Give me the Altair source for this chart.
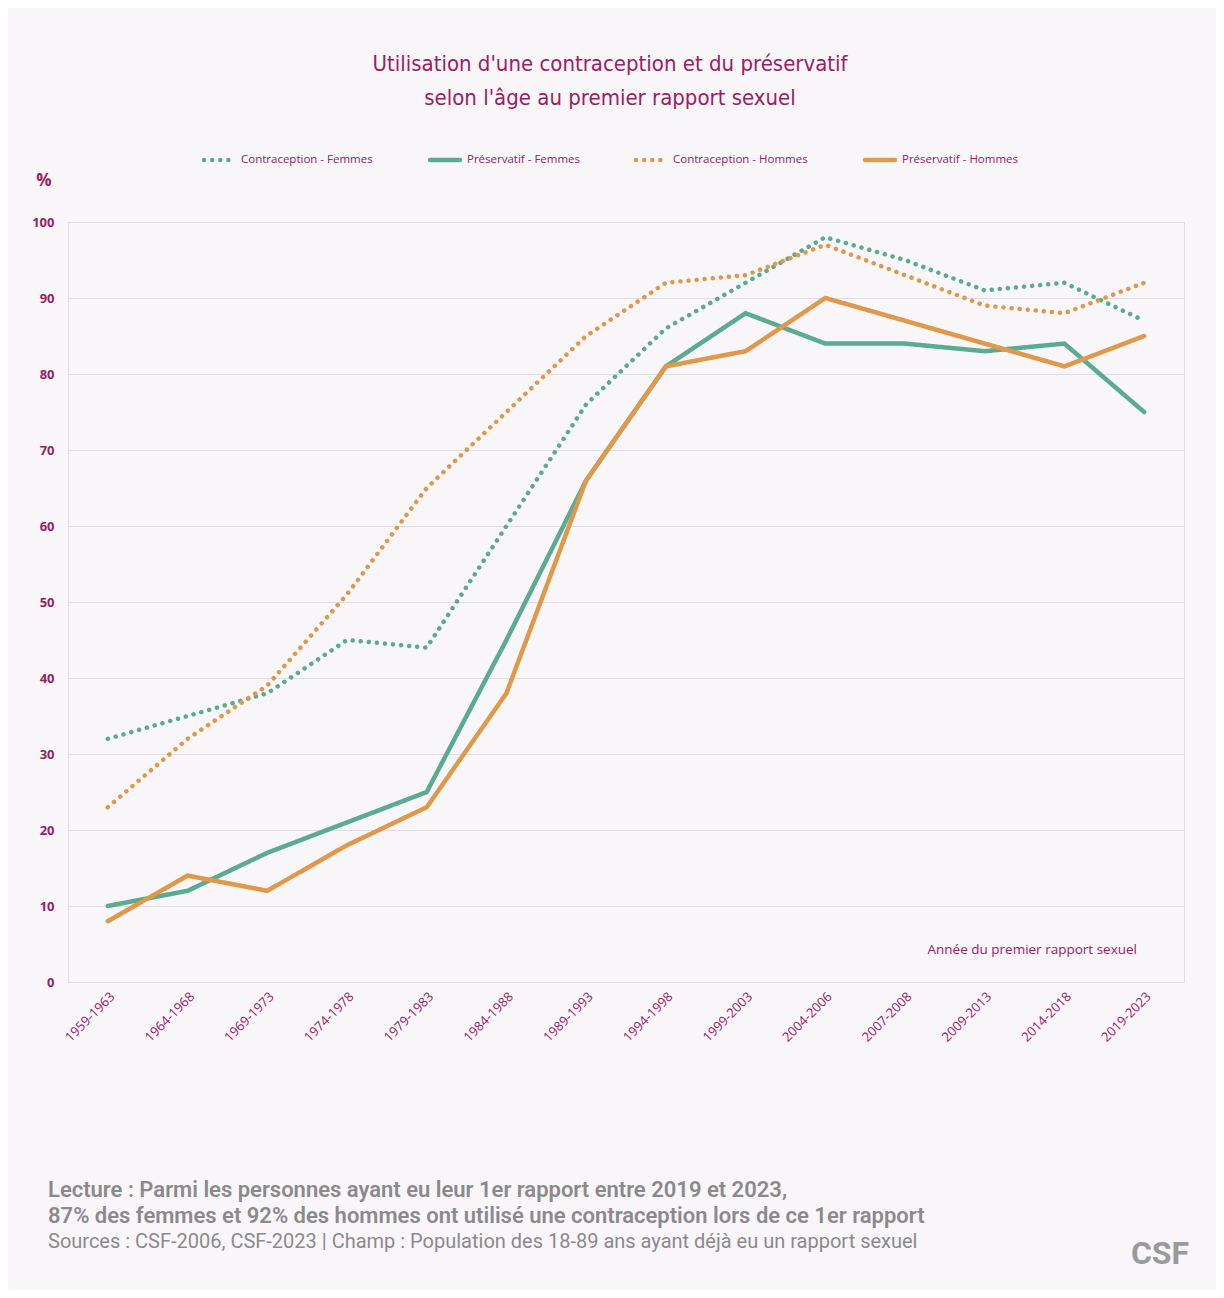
import altair as alt
import pandas as pd

periods = ["1959-1963","1964-1968","1969-1973","1974-1978","1979-1983","1984-1988","1989-1993",
           "1994-1998","1999-2003","2004-2006","2007-2008","2009-2013","2014-2018","2019-2023"]
contra_f = [32,35,38,45,44,60,76,86,92,98,95,91,92,87]
preserv_f = [10,12,17,21,25,45,66,81,88,84,84,83,84,75]
contra_h = [23,32,39,51,65,75,85,92,93,97,93,89,88,92]
preserv_h = [8,14,12,18,23,38,66,81,83,90,87,84,81,85]
series = ["Contraception - Femmes","Préservatif - Femmes","Contraception - Hommes","Préservatif - Hommes"]

rows = []
for name, vals in zip(series, [contra_f, preserv_f, contra_h, preserv_h]):
    for p, v in zip(periods, vals):
        rows.append({"periode": p, "valeur": v, "serie": name})
df = pd.DataFrame(rows)

PURPLE = "#9b2062"
GREEN = "#5aab8f"
ORANGE = "#e0984a"
TFONT = "DejaVu Sans Condensed"
DOT = [0.1, 8]

lines = alt.Chart(df).mark_line(strokeWidth=4.5, strokeCap="round").encode(
    x=alt.X("periode:N", sort=periods, title=None,
            scale=alt.Scale(type="band", paddingInner=0, paddingOuter=0),
            axis=alt.Axis(labelAngle=-45, labelColor=PURPLE, labelFont="Open Sans", labelFontSize=13,
                          tickBand="extent", gridColor="#e2dde4", domain=False, ticks=False,
                          labelAlign="right", labelBaseline="top", labelPadding=8)),
    y=alt.Y("valeur:Q", title=None, scale=alt.Scale(domain=[0, 100]),
            axis=alt.Axis(values=list(range(0, 101, 10)), labelColor=PURPLE, labelFontWeight="bold",
                          labelFont="Open Sans", labelFontSize=13, gridColor="#e2dde4",
                          domain=False, ticks=False, labelPadding=14)),
    color=alt.Color("serie:N", sort=series,
                    scale=alt.Scale(domain=series, range=[GREEN, GREEN, ORANGE, ORANGE]), legend=None),
    strokeDash=alt.StrokeDash("serie:N", sort=series,
                              scale=alt.Scale(domain=series, range=[DOT, [1, 0], DOT, [1, 0]]),
                              legend=None),
)

one = pd.DataFrame({"t": [0]})

def txt(text, x, y, **kw):
    return alt.Chart(one).mark_text(text=text, **kw).encode(x=alt.value(x), y=alt.value(y))

layers = [lines]
leg = [(series[0], GREEN, DOT, 136), (series[1], GREEN, [1, 0], 362),
       (series[2], ORANGE, DOT, 568), (series[3], ORANGE, [1, 0], 797)]
for name, col, dash, x0 in leg:
    layers.append(alt.Chart(one).mark_rule(color=col, strokeWidth=4.5, strokeDash=dash, strokeCap="round").encode(
        x=alt.value(x0), x2=alt.value(x0 + 30), y=alt.value(-62)))
    layers.append(txt(name, x0 + 37, -62, color=PURPLE, font="Open Sans", fontSize=11.5, align="left", baseline="middle"))

layers.append(txt("Utilisation d'une contraception et du préservatif", 542, -158, color=PURPLE, font=TFONT,
                  fontSize=22, align="center", baseline="middle"))
layers.append(txt("selon l'âge au premier rapport sexuel", 542, -124, color=PURPLE, font=TFONT,
                  fontSize=22, align="center", baseline="middle"))
layers.append(txt("%", -24, -41, color=PURPLE, fontSize=17, fontWeight="bold", font="Open Sans",
                  align="center", baseline="middle"))
layers.append(txt("Année du premier rapport sexuel", 1069, 728, color=PURPLE, fontSize=13.5,
                  font="Open Sans", align="right", baseline="middle"))
GREY = "#8a8a8a"
layers.append(txt("Lecture : Parmi les personnes ayant eu leur 1er rapport entre 2019 et 2023,", -20, 968,
                  color=GREY, fontSize=22, fontWeight=600, font="Roboto", align="left", baseline="middle"))
layers.append(txt("87% des femmes et 92% des hommes ont utilisé une contraception lors de ce 1er rapport", -20, 994,
                  color=GREY, fontSize=22, fontWeight=600, font="Roboto", align="left", baseline="middle"))
layers.append(txt("Sources : CSF-2006, CSF-2023  |  Champ : Population des 18-89 ans ayant déjà eu un rapport sexuel",
                  -20, 1020, color=GREY, fontSize=20, font="Roboto", align="left", baseline="middle"))
layers.append(txt("CSF", 1092, 1032, color="#9a9a9a", fontSize=32, fontWeight="bold", font="Roboto",
                  align="center", baseline="middle"))

chart = alt.layer(*layers).properties(
    width=1116, height=760,
    autosize=alt.AutoSizeParams(type="none"),
    background="#f9f6fa", padding={"left": 60, "top": 214, "right": 32, "bottom": 308},
).configure_view(stroke="#e2dde4")

chart.save("out.html", embed_options={"renderer": "svg", "actions": False})
